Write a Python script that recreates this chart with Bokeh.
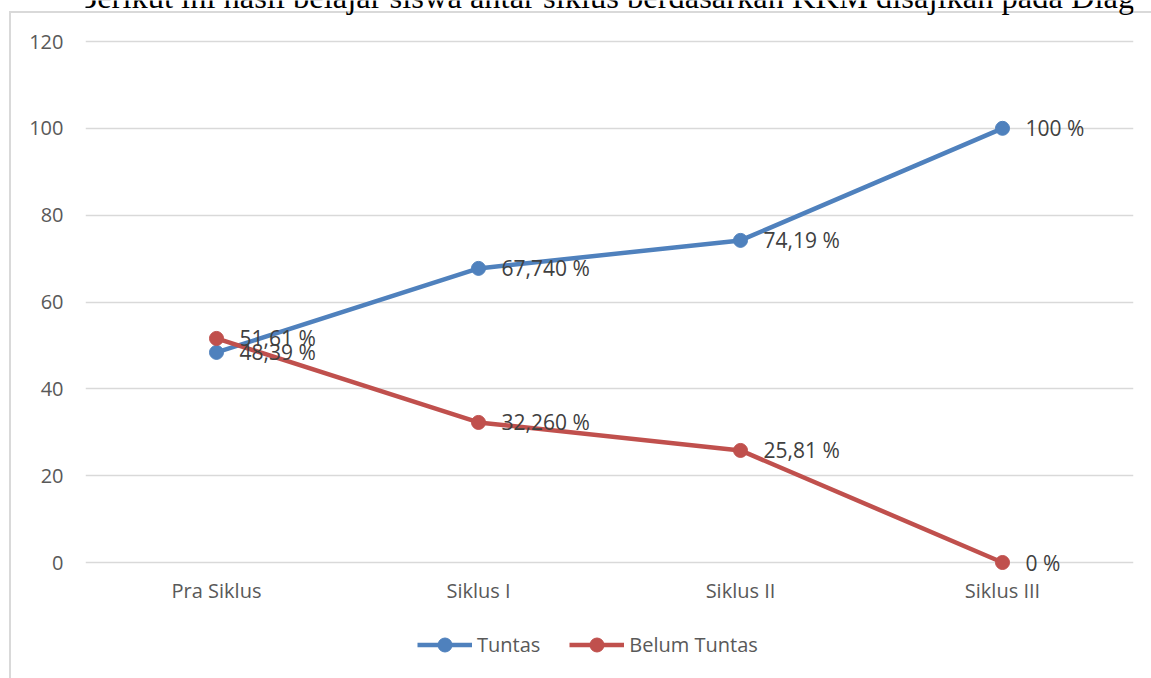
from bokeh.plotting import figure
from bokeh.models import (FactorRange, Range1d, FixedTicker, Legend, LegendItem, Label)
from bokeh.core.properties import value
from bokeh.embed import file_html
from bokeh.resources import INLINE

categories = ["Pra Siklus", "Siklus I", "Siklus II", "Siklus III"]
tuntas = [48.39, 67.74, 74.19, 100]
belum = [51.61, 32.26, 25.81, 0]
tuntas_labels = ["48,39 %", "67,740 %", "74,19 %", "100 %"]
belum_labels = ["51,61 %", "32,260 %", "25,81 %", "0 %"]
y_ticks = [0, 20, 40, 60, 80, 100, 120]
series_names = ["Tuntas", "Belum Tuntas"]
title_text = "Berikut ini hasil belajar siswa antar siklus berdasarkan KKM disajikan pada Diagram"

BLUE = "#4f81bd"
RED = "#c0504d"
FONT = "Open Sans"
BORDER = "#d9d9d9"

# value axis 0..120 occupies pixel rows 41..562 of a 678px-high frame
Y_BOTTOM = -(678 - 562) * 120 / 521
Y_TOP = 120 + 41 * 120 / 521

p = figure(x_range=FactorRange(*categories), y_range=Range1d(Y_BOTTOM, Y_TOP),
           frame_width=1048, frame_height=678,
           min_border_left=85, min_border_right=18, min_border_top=0, min_border_bottom=0,
           output_backend="svg", toolbar_location=None,
           background_fill_alpha=0, border_fill_alpha=0)
# chart-area border (left and top edges) painted behind the transparent canvas
p.styles = {
    "background-color": "white",
    "background-image": f"linear-gradient({BORDER}, {BORDER}), linear-gradient({BORDER}, {BORDER})",
    "background-size": "2px 100%, 100% 2px",
    "background-position": "9px 12px, 9px 11px",
    "background-repeat": "no-repeat",
}
p.outline_line_color = None

# axes
p.yaxis.ticker = FixedTicker(ticks=y_ticks)
p.xaxis.fixed_location = 0
for ax in (p.xaxis[0], p.yaxis[0]):
    ax.axis_line_color = None
    ax.major_tick_line_color = None
    ax.minor_tick_line_color = None
    ax.major_tick_out = 0
    ax.major_tick_in = 0
    ax.minor_tick_out = 0
    ax.minor_tick_in = 0
    ax.major_label_text_font = FONT
    ax.major_label_text_font_size = "20px"
    ax.major_label_text_color = "#595959"
p.yaxis.major_label_standoff = 22
p.xaxis.major_label_standoff = 14

p.xgrid.grid_line_color = None
p.ygrid.grid_line_color = BORDER
p.ygrid.grid_line_width = 1.4

# series
l1 = p.line(categories, tuntas, line_color=BLUE, line_width=4.5)
l2 = p.line(categories, belum, line_color=RED, line_width=4.5)
s1 = p.scatter(categories, tuntas, size=14, fill_color=BLUE, line_color=BLUE)
s2 = p.scatter(categories, belum, size=14, fill_color=RED, line_color=RED)

p.text(categories, belum, text=belum_labels, x_offset=23, text_align="left",
       text_baseline="middle", text_font=value(FONT), text_font_size="21px",
       text_color="#404040")
p.text(categories, tuntas, text=tuntas_labels, x_offset=23, text_align="left",
       text_baseline="middle", text_font=value(FONT), text_font_size="21px",
       text_color="#404040")

legend = Legend(items=[LegendItem(label=series_names[0], renderers=[l1, s1]),
                       LegendItem(label=series_names[1], renderers=[l2, s2])],
                orientation="horizontal", location=(332, 16),
                glyph_width=55, glyph_height=35, label_height=35,
                label_standoff=5, spacing=29, padding=0, margin=0,
                border_line_color=None, background_fill_alpha=0,
                label_text_font=FONT, label_text_font_size="20px",
                label_text_color="#595959")
p.add_layout(legend, "center")

# clipped document text above the chart (only its lower part shows)
p.add_layout(Label(x=-10, y=682, x_units="screen", y_units="screen",
                   text=title_text, text_font="Liberation Serif",
                   text_font_size="32.5px", text_color="black",
                   text_baseline="alphabetic"))

open("out.html", "w").write(file_html(p, INLINE))
